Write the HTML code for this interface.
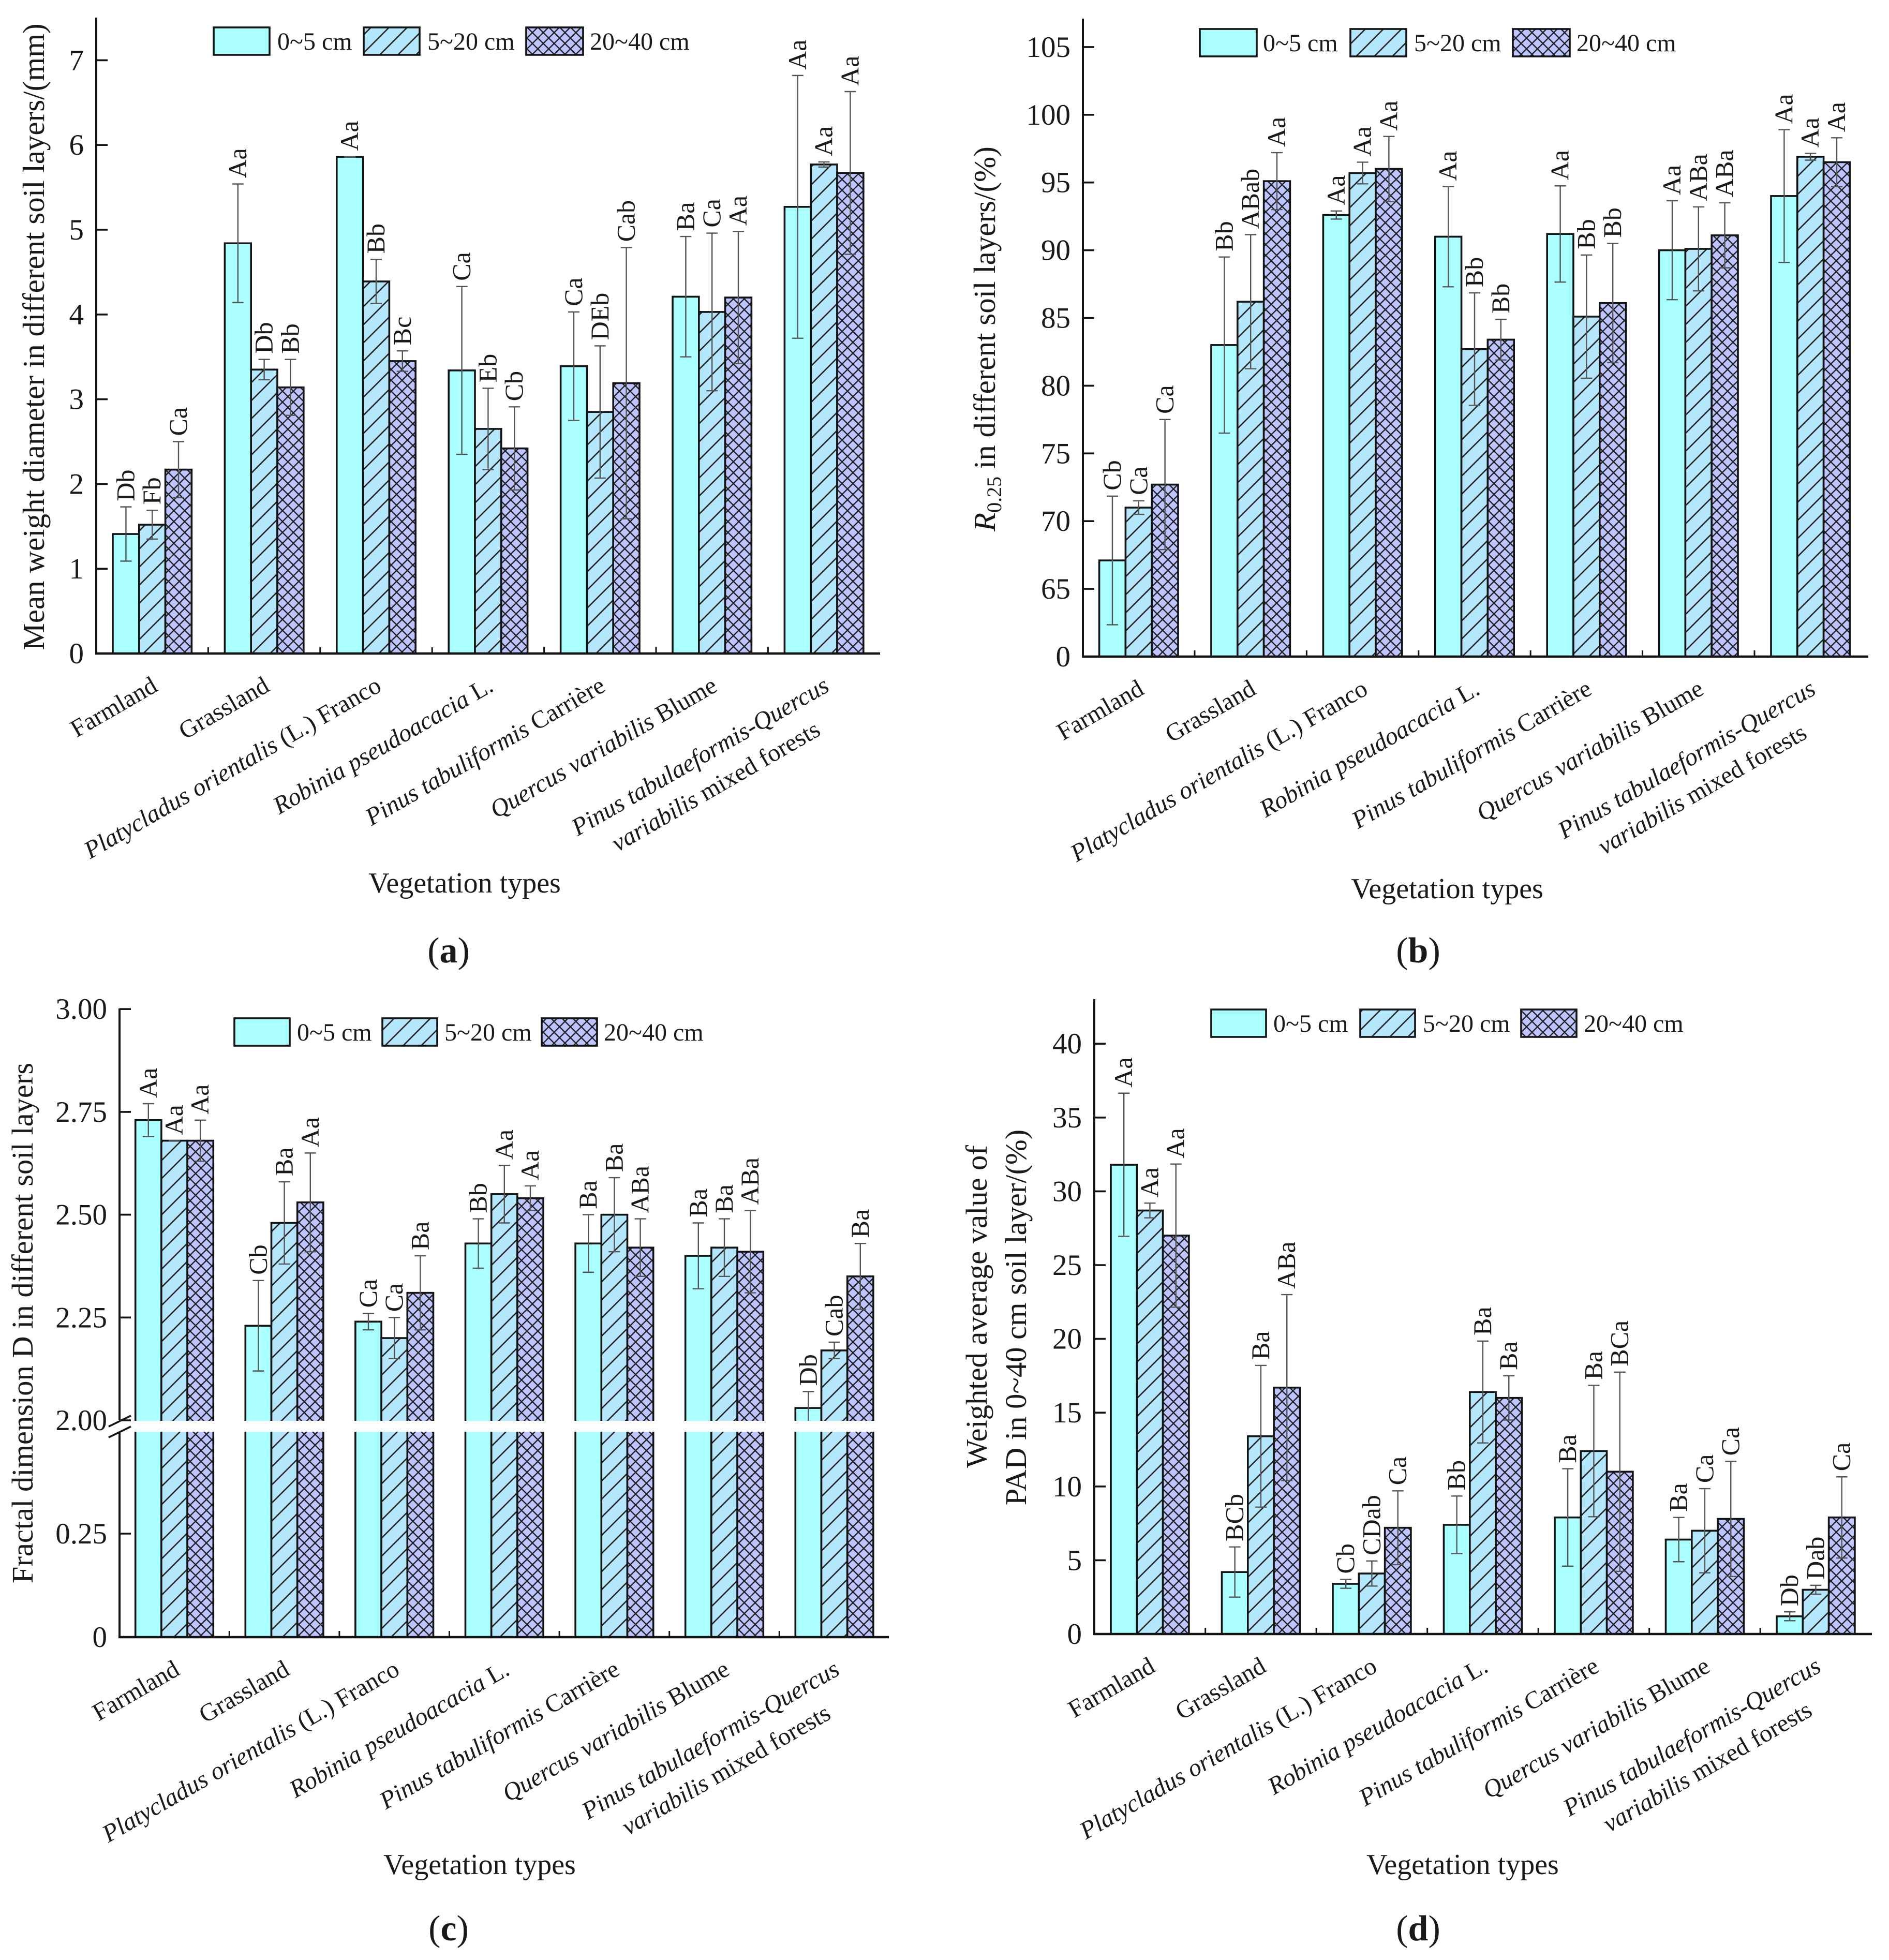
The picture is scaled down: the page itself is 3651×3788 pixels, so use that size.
<!DOCTYPE html>
<html lang="en">
<head>
<meta charset="utf-8">
<title>Soil aggregate stability under vegetation types</title>
<style>
html,body{margin:0;padding:0;background:#fff;}
svg{display:block;font-family:"Liberation Serif",serif;}
text{fill:#1a1a1a;}
</style>
</head>
<body>
<svg id="figure" xmlns="http://www.w3.org/2000/svg" width="3651" height="3788" viewBox="0 0 3651 3788">
<defs>
<pattern id="hatch-diag" patternUnits="userSpaceOnUse" width="35" height="35">
<rect width="35" height="35" fill="#b4e6fc"/>
<path d="M-4 39L39 -4M-4 4L4 -4M31 39L39 31" stroke="#222" stroke-width="2.6" fill="none"/>
</pattern>
<pattern id="hatch-cross" patternUnits="userSpaceOnUse" width="21" height="21">
<rect width="21" height="21" fill="#bcc5ff"/>
<path d="M0 0L21 21M21 0L0 21" stroke="#222" stroke-width="2.4" fill="none"/>
</pattern>
</defs>
<rect width="3651" height="3788" fill="#ffffff"/>
<g id="root"></g>
</svg>
<script>
// ---- shared categories and labels
const categories = ['Farmland','Grassland','*Platycladus orientalis* (L.) Franco','*Robinia pseudoacacia* L.','*Pinus tabuliformis* Carrière','*Quercus variabilis* Blume','*Pinus tabulaeformis-Quercus*|*variabilis* mixed forests'];
const seriesNames = ['0~5 cm','5~20 cm','20~40 cm'];

// ---- panel (a) mean weight diameter
const aTicks = [0,1,2,3,4,5,6,7];
const aTickLabels = ['0','1','2','3','4','5','6','7'];
const aTop = [1.41,4.84,5.86,3.34,3.39,4.21,5.27];
const aMid = [1.52,3.35,4.39,2.65,2.85,4.03,5.77];
const aLow = [2.17,3.14,3.45,2.42,3.19,4.20,5.67];
const aTopErr = [0.32,0.70,0.003,0.99,0.64,0.71,1.55];
const aMidErr = [0.17,0.12,0.26,0.48,0.78,0.93,0.03];
const aLowErr = [0.33,0.33,0.12,0.49,1.60,0.78,0.96];
const aTopSig = ['Db','Aa','Aa','Ca','Ca','Ba','Aa'];
const aMidSig = ['Fb','Db','Bb','Eb','DEb','Ca','Aa'];
const aLowSig = ['Ca','Bb','Bc','Cb','Cab','Aa','Aa'];

// ---- panel (b) R0.25
const bTicks = [60,65,70,75,80,85,90,95,100,105];
const bTickLabels = ['0','65','70','75','80','85','90','95','100','105'];
const bTop = [67.1,83.0,92.6,91.0,91.2,90.0,94.0];
const bMid = [71.0,86.2,95.7,82.7,85.1,90.1,96.9];
const bLow = [72.7,95.1,96.0,83.4,86.1,91.1,96.5];
const bTopErr = [4.75,6.5,0.3,3.7,3.55,3.65,4.9];
const bMidErr = [0.5,4.95,0.8,4.15,4.55,3.1,0.25];
const bLowErr = [4.8,2.1,2.4,1.5,4.4,2.4,1.8];
const bTopSig = ['Cb','Bb','Aa','Aa','Aa','Aa','Aa'];
const bMidSig = ['Ca','ABab','Aa','Bb','Bb','ABa','Aa'];
const bLowSig = ['Ca','Aa','Aa','Bb','Bb','ABa','Aa'];

// ---- panel (c) fractal dimension
const cTicks = [0,0.25,2,2.25,2.5,2.75,3];
const cTickLabels = ['0','0.25','2.00','2.25','2.50','2.75','3.00'];
const cTop = [2.73,2.23,2.24,2.43,2.43,2.40,2.03];
const cMid = [2.68,2.48,2.20,2.55,2.50,2.42,2.17];
const cLow = [2.68,2.53,2.31,2.54,2.42,2.41,2.35];
const cTopErr = [0.04,0.11,0.02,0.06,0.07,0.08,0.04];
const cMidErr = [0,0.10,0.05,0.07,0.09,0.07,0.02];
const cLowErr = [0.05,0.12,0.09,0.03,0.07,0.10,0.08];
const cTopSig = ['Aa','Cb','Ca','Bb','Ba','Ba','Db'];
const cMidSig = ['Aa','Ba','Ca','Aa','Ba','Ba','Cab'];
const cLowSig = ['Aa','Aa','Ba','Aa','ABa','ABa','Ba'];

// ---- panel (d) weighted PAD
const dTicks = [0,5,10,15,20,25,30,35,40];
const dTickLabels = ['0','5','10','15','20','25','30','35','40'];
const dTop = [31.8,4.2,3.4,7.4,7.9,6.4,1.2];
const dMid = [28.7,13.4,4.1,16.4,12.4,7.0,3.0];
const dLow = [27.0,16.7,7.2,16.0,11.0,7.8,7.9];
const dTopErr = [4.85,1.7,0.3,1.95,3.3,1.5,0.3];
const dMidErr = [0.5,4.8,0.85,3.45,4.45,2.85,0.3];
const dLowErr = [4.85,6.3,2.5,1.5,6.75,3.9,2.75];
const dTopSig = ['Aa','BCb','Cb','Bb','Ba','Ba','Db'];
const dMidSig = ['Aa','Ba','CDab','Ba','Ba','Ca','Dab'];
const dLowSig = ['Aa','ABa','Ca','Ba','BCa','Ca','Ca'];

const NS = 'http://www.w3.org/2000/svg';
const root = document.getElementById('root');
const fills = ['#aaffff','url(#hatch-diag)','url(#hatch-cross)'];

function make(tag, parent, attrs){
  const el = document.createElementNS(NS, tag);
  for (const k in attrs) el.setAttribute(k, attrs[k]);
  parent.appendChild(el);
  return el;
}
function richText(el, str){
  str.split('*').forEach(function(part, i){
    if (!part) return;
    const t = document.createElementNS(NS, 'tspan');
    if (i % 2 === 1) t.setAttribute('font-style', 'italic');
    t.textContent = part;
    el.appendChild(t);
  });
}

function drawPanel(p){
  const g = make('g', root, {});
  
  

  // bars
  const groupW = p.barW * 3;
  const vals = [p.top, p.mid, p.low];
  const errs = [p.topErr, p.midErr, p.lowErr];
  const sigs = [p.topSig, p.midSig, p.lowSig];
  const names = ['0-5cm','5-20cm','20-40cm'];
  categories.forEach(function(cat, i){
    const gx = p.x0 + p.step * i;
    for (let s = 0; s < 3; s++){
      const x = gx + s * p.barW;
      const yTop = p.y(vals[s][i]);
      const bar = make('rect', g, {x:x, y:yTop, width:p.barW, height:p.base - yTop, fill:fills[s], stroke:'#141414', 'stroke-width':3.6});
      
      
    }
  });
  // error bars and significance letters
  categories.forEach(function(cat, i){
    const gx = p.x0 + p.step * i;
    for (let s = 0; s < 3; s++){
      const cx = gx + (s + 0.5) * p.barW;
      const hi = p.y(vals[s][i] + errs[s][i]);
      const lo = p.y(vals[s][i] - errs[s][i]);
      const eb = make('path', g, {d:'M'+cx+' '+hi+'V'+lo+'M'+(cx-11)+' '+hi+'H'+(cx+11)+'M'+(cx-11)+' '+lo+'H'+(cx+11), stroke:'#555', 'stroke-width':2.4, fill:'none'});
      
      
      const lx = cx + 16, ly = hi - 11;
      const sig = make('text', g, {x:lx, y:ly, 'font-size':50, transform:'rotate(-90 '+lx+' '+ly+')'});
      sig.textContent = sigs[s][i];
      
      
    }
  });

  // axis break
  if (p.id === 'c'){
    const band = make('rect', g, {x:225, y:p.breakTop, width:p.right - 225 + 4, height:p.breakBottom - p.breakTop, fill:'#fff'});
    
    
    const sl = make('path', g, {d:'M210 2757L253 2736M210 2778L253 2757', stroke:'#141414', 'stroke-width':3.6, fill:'none'});
    
    
  }

  // axes
  const yd = p.id === 'c'
    ? 'M'+p.axisX+' '+p.axisTop+'V'+(p.breakTop-2)+'M'+p.axisX+' '+(p.breakBottom+1)+'V'+(p.base+2)
    : 'M'+p.axisX+' '+p.axisTop+'V'+(p.base+2);
  const yAxis = make('path', g, {d:yd, stroke:'#141414', 'stroke-width':4, fill:'none'});
  
  
  const xAxis = make('line', g, {x1:p.axisX-2, x2:p.right, y1:p.base, y2:p.base, stroke:'#141414', 'stroke-width':4.4});
  
  

  p.ticks.forEach(function(v, i){
    const yy = p.y(v);
    if (i > 0){
      const t = make('line', g, {x1:p.axisX, x2:p.axisX + 22, y1:yy, y2:yy, stroke:'#141414', 'stroke-width':3.6});
      
      
    }
    const l = make('text', g, {x:p.axisX - 24, y:yy + 19, 'font-size':57, 'text-anchor':'end'});
    l.textContent = p.tickLabels[i];
    
    
  });

  // x ticks and category labels
  categories.forEach(function(cat, i){
    const gx = p.x0 + p.step * i;
    if (i < categories.length - 1){
      const mx = gx + groupW + (p.step - groupW) / 2;
      const t = make('line', g, {x1:mx, x2:mx, y1:p.base, y2:p.base - 12, stroke:'#141414', 'stroke-width':3});
      
      
    }
    const cx = gx + groupW / 2 + 13;
    const cy = p.base + 71;
    cat.split('|').forEach(function(line, j){
      const lx = cx - 17 * j, ly = cy + 85 * j;
      const txt = make('text', g, {x:lx, y:ly, 'font-size':48, 'text-anchor':'end', transform:'rotate(-30 '+lx+' '+ly+')'});
      richText(txt, line);
      
      
    });
  });

  // legend
  p.legend.forEach(function(lg, s){
    const sw = make('rect', g, {x:lg[0], y:p.legendY, width:lg[1], height:53, fill:fills[s], stroke:'#141414', 'stroke-width':3.6});
    
    
    const lt = make('text', g, {x:lg[2], y:p.legendY + 43, 'font-size':48});
    lt.textContent = seriesNames[s];
    
    
  });

  // titles
  p.yTitles.forEach(function(t, k){
    const yt = make('text', g, {x:t[1], y:t[2], 'font-size':p.yTitleSize, 'text-anchor':'middle', transform:'rotate(-90 '+t[1]+' '+t[2]+')'});
    richText(yt, t[0]);
    if (p.id === 'b'){
      yt.textContent = '';
      const a = document.createElementNS(NS, 'tspan');
      a.setAttribute('font-style', 'italic');
      a.textContent = 'R';
      yt.appendChild(a);
      const b = document.createElementNS(NS, 'tspan');
      b.setAttribute('font-size', '40');
      b.setAttribute('dy', '12');
      b.textContent = '0.25';
      yt.appendChild(b);
      const c = document.createElementNS(NS, 'tspan');
      c.setAttribute('dy', '-12');
      c.textContent = t[0];
      yt.appendChild(c);
    }
    
    
  });
  const xt = make('text', g, {x:p.xTitle[0], y:p.xTitle[1], 'font-size':56, 'text-anchor':'middle'});
  xt.textContent = 'Vegetation types';
  
  

  const cap = make('text', g, {x:p.caption[0], y:p.caption[1], 'font-size':70, 'text-anchor':'middle'});
  const c1 = document.createElementNS(NS, 'tspan'); c1.textContent = '('; cap.appendChild(c1);
  const c2 = document.createElementNS(NS, 'tspan'); c2.setAttribute('font-weight', 'bold'); c2.textContent = p.id; cap.appendChild(c2);
  const c3 = document.createElementNS(NS, 'tspan'); c3.textContent = ')'; cap.appendChild(c3);
  
  
}

drawPanel({
  id:'a', x0:218, step:216.4, barW:50.8, base:1263, axisX:186, axisTop:34, right:1701,
  y:function(v){return 1263 - v * 163.8;},
  ticks:aTicks, tickLabels:aTickLabels,
  top:aTop, mid:aMid, low:aLow, topErr:aTopErr, midErr:aMidErr, lowErr:aLowErr,
  topSig:aTopSig, midSig:aMidSig, lowSig:aLowSig,
  legendY:53, legend:[[413,108,536],[703,108,826],[1017,110,1140]],
  yTitleSize:59, yTitles:[['Mean weight diameter in different soil layers/(mm)',85,651]],
  xTitle:[898,1725], caption:[867,1860]
});
drawPanel({
  id:'b', x0:2124.6, step:216.4, barW:50.8, base:1269, axisX:2093, axisTop:36, right:3611,
  y:function(v){return 1269 - (v - 60) * 26.18;},
  ticks:bTicks, tickLabels:bTickLabels,
  top:bTop, mid:bMid, low:bLow, topErr:bTopErr, midErr:bMidErr, lowErr:bLowErr,
  topSig:bTopSig, midSig:bMidSig, lowSig:bLowSig,
  legendY:56, legend:[[2319,110,2441],[2610,108,2733],[2924,110,3047]],
  yTitleSize:59, yTitles:[[' in different soil layers/(%)',1923,655]],
  xTitle:[2797,1736], caption:[2741,1860]
});
drawPanel({
  id:'c', x0:261.7, step:212.6, barW:50.2, base:3164, axisX:231, axisTop:1949, right:1718, breakTop:2746, breakBottom:2767,
  y:function(v){return v >= 1 ? 2745 - (v - 2) * 794.8 : 3164 - v * 800;},
  ticks:cTicks, tickLabels:cTickLabels,
  top:cTop, mid:cMid, low:cLow, topErr:cTopErr, midErr:cMidErr, lowErr:cLowErr,
  topSig:cTopSig, midSig:cMidSig, lowSig:cLowSig,
  legendY:1968, legend:[[453,107,574],[739,106,859],[1047,107,1167]],
  yTitleSize:58.5, yTitles:[['Fractal dimension D in different soil layers',63,2557]],
  xTitle:[927,3622], caption:[867,3750]
});
drawPanel({
  id:'d', x0:2147, step:214.5, barW:50.3, base:3158, axisX:2115, axisTop:1931, right:3618,
  y:function(v){return 3158 - v * 28.52;},
  ticks:dTicks, tickLabels:dTickLabels,
  top:dTop, mid:dMid, low:dLow, topErr:dTopErr, midErr:dMidErr, lowErr:dLowErr,
  topSig:dTopSig, midSig:dMidSig, lowSig:dLowSig,
  legendY:1951, legend:[[2341,106,2461],[2629,106,2750],[2940,107,3061]],
  yTitleSize:58.5, yTitles:[['Weighted average value of',1907,2525],['PAD in 0~40 cm soil layer/(%)',1983,2546]],
  xTitle:[2827,3622], caption:[2741,3750]
});
</script>
</body>
</html>
